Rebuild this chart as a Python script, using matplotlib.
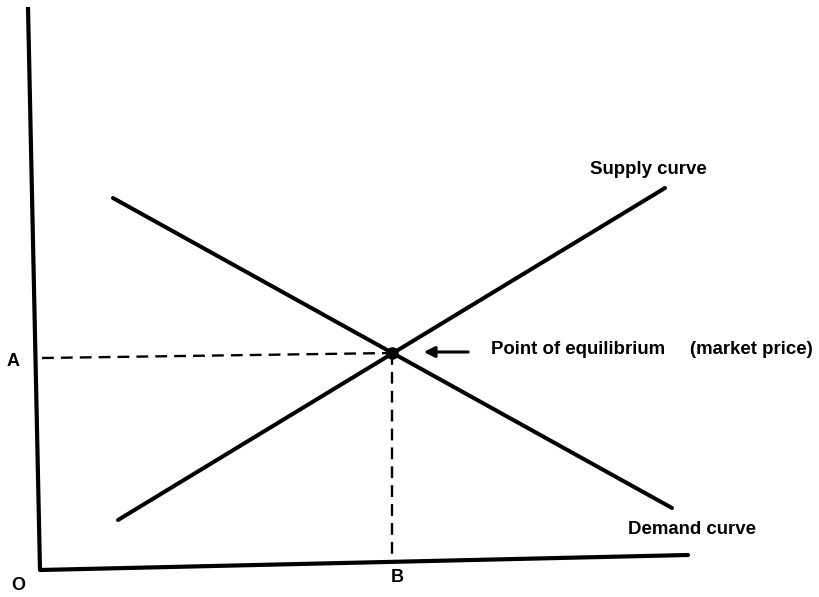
import matplotlib
matplotlib.use("Agg")
import matplotlib.pyplot as plt

# Drawing is laid out in the picture's own pixel frame (origin top-left)
y_axis_x = [28, 40]
y_axis_y = [7, 570]
x_axis_x = [40, 688]
x_axis_y = [570, 555]

supply_x = [118, 665]
supply_y = [520, 188]
demand_x = [113, 672]
demand_y = [198, 508]

eq_x, eq_y = 392, 353
price_level_y = [358, 353]
quantity_base_y = 555

labels = {
    "A": (13, 361),
    "O": (18, 586),
    "B": (397, 578),
}


def main():
    plt.rcParams['font.family'] = ['Liberation Sans', 'DejaVu Sans']
    fig = plt.figure(figsize=(8.19, 5.97), dpi=100)
    ax = fig.add_axes([0, 0, 1, 1])
    ax.set_xlim(0, 819)
    ax.set_ylim(597, 0)
    ax.axis('off')

    # axes of the diagram
    ax.plot(y_axis_x, y_axis_y, color='black', lw=3, solid_capstyle='butt')
    ax.plot(x_axis_x, x_axis_y, color='black', lw=3, solid_capstyle='round')

    # supply and demand
    ax.plot(supply_x, supply_y, color='black', lw=2.9, solid_capstyle='round')
    ax.plot(demand_x, demand_y, color='black', lw=2.9, solid_capstyle='round')

    # guide lines to A and B
    ax.plot([y_axis_x[0] + 14, eq_x], price_level_y, color='black', lw=1.7,
            dashes=(5, 3))
    ax.plot([eq_x, eq_x], [eq_y, quantity_base_y], color='black', lw=1.7,
            dashes=(5, 3))

    ax.plot(eq_x, eq_y, 'o', color='black', ms=8)

    ax.annotate('', xy=(421, 352), xytext=(471, 352),
                arrowprops=dict(arrowstyle='-|>', color='black', lw=2.2,
                                mutation_scale=16))

    txt = dict(fontsize=13.4, fontweight='bold', color='black', va='center')
    ax.text(491, 350, 'Point of equilibrium', ha='left', **txt)
    ax.text(690, 350, '(market price)', ha='left', **txt)
    ax.text(590, 169, 'Supply curve', ha='left', **txt)
    ax.text(628, 530, 'Demand curve', ha='left', **txt)

    for s, (x, y) in labels.items():
        ax.text(x, y, s, ha='center', fontsize=13, fontweight='bold',
                va='center')

    plt.savefig("out.png", dpi=100, facecolor='white')


if __name__ == "__main__":
    main()
